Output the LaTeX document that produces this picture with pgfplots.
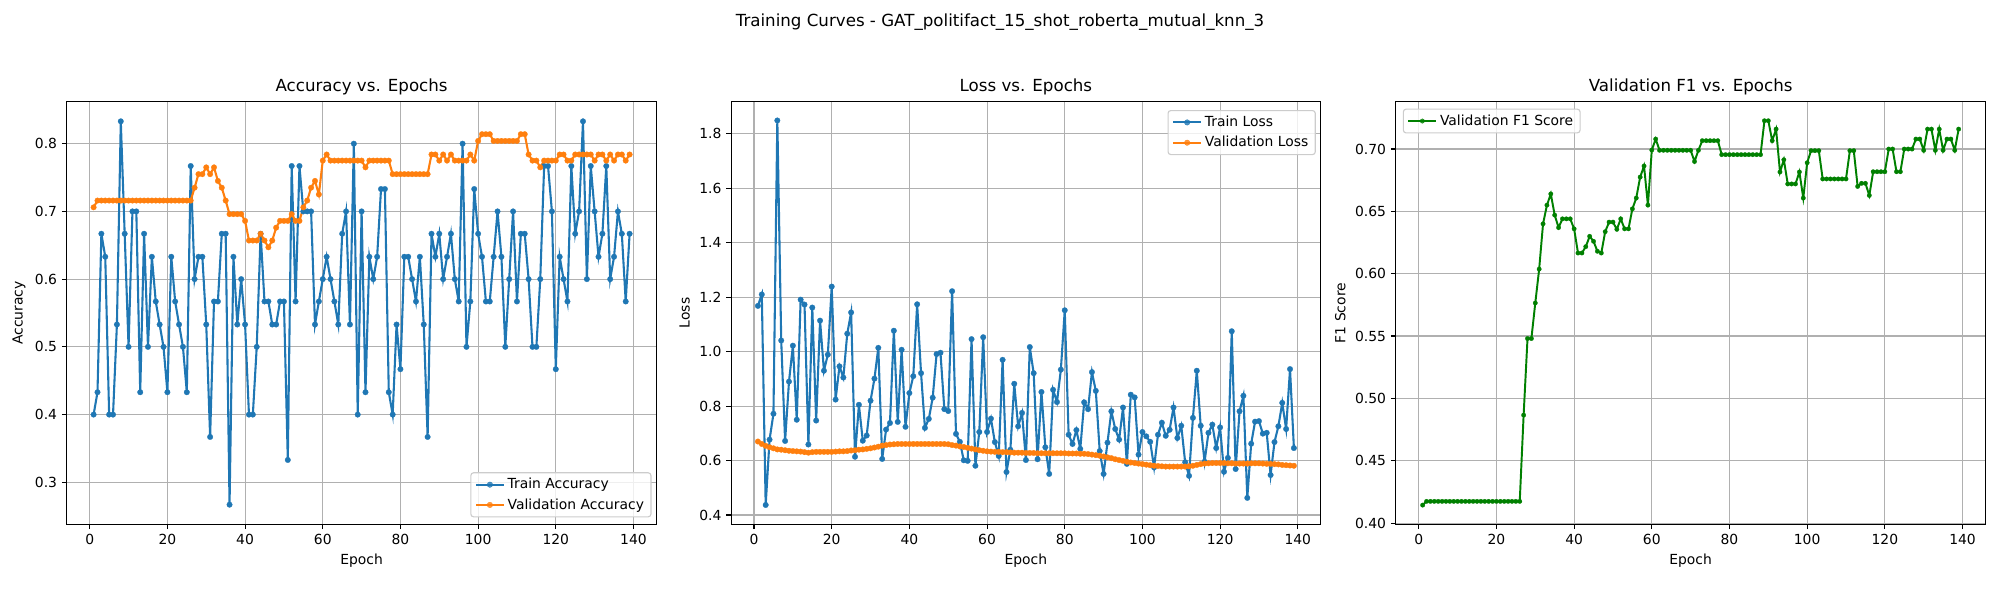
\documentclass[border=0pt]{standalone}
\usepackage{fontspec}
\setmainfont{DejaVu Sans}
\usepackage{pgfplots}
\usepackage{pgfplotstable}
\pgfplotsset{compat=1.18}
\definecolor{tabblue}{HTML}{1F77B4}
\definecolor{taborange}{HTML}{FF7F0E}
\definecolor{mplgreen}{HTML}{008000}
\definecolor{gridgray}{HTML}{B0B0B0}
\definecolor{legendgray}{HTML}{CCCCCC}

\pgfplotstableread{
ep tacc vacc tloss vloss vf1
1 0.400 0.706 1.168 0.670 0.4144
2 0.433 0.716 1.210 0.661 0.4174
3 0.667 0.716 0.437 0.654 0.4174
4 0.633 0.716 0.677 0.649 0.4174
5 0.400 0.716 0.772 0.645 0.4174
6 0.400 0.716 1.849 0.641 0.4174
7 0.533 0.716 1.041 0.640 0.4174
8 0.833 0.716 0.672 0.638 0.4174
9 0.667 0.716 0.890 0.636 0.4174
10 0.500 0.716 1.022 0.635 0.4174
11 0.700 0.716 0.750 0.634 0.4174
12 0.700 0.716 1.191 0.633 0.4174
13 0.433 0.716 1.173 0.631 0.4174
14 0.667 0.716 0.659 0.629 0.4174
15 0.500 0.716 1.162 0.631 0.4174
16 0.633 0.716 0.747 0.632 0.4174
17 0.567 0.716 1.114 0.632 0.4174
18 0.533 0.716 0.930 0.632 0.4174
19 0.500 0.716 0.989 0.632 0.4174
20 0.433 0.716 1.239 0.632 0.4174
21 0.633 0.716 0.824 0.633 0.4174
22 0.567 0.716 0.946 0.634 0.4174
23 0.533 0.716 0.905 0.634 0.4174
24 0.500 0.716 1.066 0.635 0.4174
25 0.433 0.716 1.144 0.637 0.4174
26 0.767 0.716 0.614 0.638 0.4174
27 0.600 0.735 0.805 0.640 0.4866
28 0.633 0.755 0.673 0.641 0.5480
29 0.633 0.755 0.692 0.643 0.5480
30 0.533 0.765 0.820 0.645 0.5765
31 0.367 0.755 0.901 0.648 0.6037
32 0.567 0.765 1.014 0.651 0.6400
33 0.567 0.745 0.606 0.655 0.6550
34 0.667 0.735 0.714 0.657 0.6640
35 0.667 0.716 0.738 0.659 0.6470
36 0.267 0.696 1.077 0.660 0.6370
37 0.633 0.696 0.742 0.661 0.6440
38 0.533 0.696 1.007 0.661 0.6440
39 0.600 0.696 0.724 0.661 0.6440
40 0.533 0.686 0.848 0.661 0.6360
41 0.400 0.657 0.910 0.661 0.6166
42 0.400 0.657 1.174 0.661 0.6166
43 0.500 0.657 0.921 0.661 0.6217
44 0.667 0.667 0.720 0.661 0.6300
45 0.567 0.657 0.753 0.661 0.6260
46 0.567 0.647 0.831 0.661 0.6180
47 0.533 0.657 0.991 0.661 0.6166
48 0.533 0.676 0.996 0.661 0.6337
49 0.567 0.686 0.789 0.661 0.6414
50 0.567 0.686 0.782 0.660 0.6414
51 0.333 0.686 1.222 0.657 0.6356
52 0.767 0.696 0.698 0.655 0.6440
53 0.567 0.686 0.669 0.652 0.6360
54 0.767 0.686 0.601 0.650 0.6360
55 0.700 0.706 0.599 0.647 0.6520
56 0.700 0.716 1.046 0.644 0.6607
57 0.700 0.735 0.581 0.641 0.6775
58 0.533 0.745 0.705 0.638 0.6864
59 0.567 0.725 1.053 0.636 0.6550
60 0.600 0.775 0.705 0.634 0.6992
61 0.633 0.784 0.754 0.633 0.7080
62 0.600 0.775 0.668 0.632 0.6990
63 0.567 0.775 0.617 0.632 0.6990
64 0.533 0.775 0.970 0.631 0.6990
65 0.667 0.775 0.558 0.631 0.6990
66 0.700 0.775 0.640 0.630 0.6990
67 0.533 0.775 0.882 0.629 0.6990
68 0.800 0.775 0.726 0.629 0.6990
69 0.400 0.775 0.775 0.629 0.6990
70 0.700 0.775 0.602 0.628 0.6990
71 0.433 0.765 1.017 0.628 0.6900
72 0.633 0.775 0.921 0.628 0.6990
73 0.600 0.775 0.605 0.627 0.7067
74 0.633 0.775 0.852 0.627 0.7067
75 0.733 0.775 0.649 0.627 0.7067
76 0.733 0.775 0.551 0.627 0.7067
77 0.433 0.775 0.860 0.627 0.7067
78 0.400 0.755 0.815 0.627 0.6955
79 0.533 0.755 0.934 0.627 0.6955
80 0.467 0.755 1.152 0.627 0.6955
81 0.633 0.755 0.695 0.626 0.6955
82 0.633 0.755 0.661 0.626 0.6955
83 0.600 0.755 0.712 0.626 0.6955
84 0.567 0.755 0.643 0.625 0.6955
85 0.633 0.755 0.814 0.625 0.6955
86 0.533 0.755 0.789 0.624 0.6955
87 0.367 0.755 0.925 0.622 0.6955
88 0.667 0.784 0.856 0.620 0.6955
89 0.633 0.784 0.635 0.618 0.7227
90 0.667 0.775 0.551 0.615 0.7227
91 0.600 0.784 0.666 0.612 0.7067
92 0.633 0.775 0.781 0.609 0.7160
93 0.667 0.784 0.716 0.605 0.6816
94 0.600 0.775 0.677 0.602 0.6914
95 0.567 0.775 0.795 0.599 0.6720
96 0.800 0.775 0.588 0.596 0.6720
97 0.500 0.775 0.842 0.593 0.6720
98 0.567 0.784 0.832 0.591 0.6816
99 0.733 0.775 0.622 0.589 0.6607
100 0.667 0.804 0.705 0.587 0.6890
101 0.633 0.814 0.689 0.585 0.6987
102 0.567 0.814 0.669 0.583 0.6987
103 0.567 0.814 0.575 0.581 0.6987
104 0.633 0.804 0.695 0.580 0.6760
105 0.700 0.804 0.739 0.579 0.6760
106 0.633 0.804 0.691 0.578 0.6760
107 0.500 0.804 0.713 0.578 0.6760
108 0.600 0.804 0.795 0.578 0.6760
109 0.700 0.804 0.683 0.578 0.6760
110 0.567 0.804 0.728 0.578 0.6760
111 0.667 0.814 0.594 0.578 0.6987
112 0.667 0.814 0.544 0.579 0.6987
113 0.600 0.784 0.757 0.581 0.6700
114 0.500 0.775 0.930 0.584 0.6725
115 0.500 0.775 0.728 0.587 0.6725
116 0.600 0.765 0.596 0.589 0.6628
117 0.767 0.775 0.702 0.590 0.6818
118 0.767 0.775 0.732 0.591 0.6818
119 0.700 0.775 0.646 0.591 0.6818
120 0.467 0.775 0.722 0.591 0.6818
121 0.633 0.784 0.559 0.591 0.7000
122 0.600 0.784 0.610 0.590 0.7000
123 0.567 0.775 1.075 0.590 0.6818
124 0.767 0.775 0.569 0.589 0.6818
125 0.667 0.784 0.781 0.589 0.7000
126 0.700 0.784 0.838 0.589 0.7000
127 0.833 0.784 0.463 0.589 0.7000
128 0.600 0.784 0.662 0.590 0.7080
129 0.767 0.784 0.743 0.590 0.7080
130 0.700 0.775 0.745 0.590 0.6990
131 0.633 0.784 0.699 0.589 0.7160
132 0.667 0.784 0.702 0.588 0.7160
133 0.767 0.775 0.547 0.588 0.6990
134 0.600 0.784 0.668 0.587 0.7160
135 0.633 0.775 0.726 0.586 0.6990
136 0.700 0.784 0.812 0.584 0.7080
137 0.667 0.784 0.716 0.583 0.7080
138 0.567 0.775 0.936 0.582 0.6990
139 0.667 0.784 0.646 0.581 0.7160
}\data

\pgfplotsset{
  panel/.style={
    scale only axis, width=424.5pt, height=304.3pt, anchor=south west,
    xmin=-5.9, xmax=145.9, xtick={0,20,...,140},
    grid=major, major grid style={color=gridgray, line width=0.8pt},
    axis line style={line width=0.8pt, black},
    every tick/.style={black, line width=0.8pt},
    tick align=outside, major tick length=3.5pt, tick pos=left,
    tick label style={font=\fontsize{10}{12}\selectfont},
    label style={font=\fontsize{10}{12}\selectfont},
    xlabel={Epoch},
    title style={font=\fontsize{12}{14}\selectfont, at={(0.5,1)}, anchor=base, yshift=1pt},
    /pgf/number format/assume math mode=true,
    yticklabel style={/pgf/number format/fixed, /pgf/number format/fixed zerofill},
    legend cell align=left,
    legend style={font=\fontsize{10}{12}\selectfont, draw=legendgray, line width=0.8pt,
      rounded corners=2pt, fill=white, fill opacity=0.8, text opacity=1, draw opacity=1,
      inner xsep=3pt, inner ysep=2pt, row sep=1.5pt},
    legend image code/.code={\draw[mark repeat=2, mark phase=2, #1] plot coordinates {(0pt,0pt) (10pt,0pt) (20pt,0pt)};},
  },
  series/.style={line width=1.5pt, color=#1, mark=*, mark size=2pt, mark options={line width=0.2pt, solid}},
}

\begin{document}
\begin{tikzpicture}[x=1pt,y=1pt]
\useasboundingbox (0,0) rectangle (1440,432);
\node[anchor=north, font=\fontsize{12}{14}\selectfont, inner sep=0pt] at (720,422.5)
  {Training Curves - GAT\_politifact\_15\_shot\_roberta\_mutual\_knn\_3};

\begin{axis}[panel, at={(48.1pt,54.5pt)},
  ymin=0.238, ymax=0.862, ytick={0.3,0.4,...,0.81},
  yticklabel style={/pgf/number format/precision=1},
  ylabel={Accuracy}, title={Accuracy vs. Epochs},
  legend style={at={(1,0)}, anchor=south east, xshift=-3.5pt, yshift=5pt}]
\addplot[series=tabblue] table[x=ep, y=tacc] {\data};
\addlegendentry{Train Accuracy}
\addplot[series=taborange] table[x=ep, y=vacc] {\data};
\addlegendentry{Validation Accuracy}
\end{axis}

\begin{axis}[panel, at={(526.4pt,54.5pt)},
  ymin=0.366, ymax=1.918, ytick={0.4,0.6,...,1.81},
  yticklabel style={/pgf/number format/precision=1},
  ylabel={Loss}, title={Loss vs. Epochs},
  legend style={at={(1,1)}, anchor=north east, xshift=-3.5pt, yshift=-6pt}]
\addplot[series=tabblue] table[x=ep, y=tloss] {\data};
\addlegendentry{Train Loss}
\addplot[series=taborange] table[x=ep, y=vloss] {\data};
\addlegendentry{Validation Loss}
\end{axis}

\begin{axis}[panel, at={(1005.0pt,54.5pt)},
  ymin=0.399, ymax=0.738, ytick={0.40,0.45,...,0.71},
  yticklabel style={/pgf/number format/precision=2},
  ylabel={F1 Score}, title={Validation F1 vs. Epochs},
  legend style={at={(0,1)}, anchor=north west, xshift=5pt, yshift=-5pt}]
\addplot[line width=1.4pt, color=mplgreen, mark=*, mark size=1.6pt, mark options={line width=0.2pt, solid}] table[x=ep, y=vf1] {\data};
\addlegendentry{Validation F1 Score}
\end{axis}
\end{tikzpicture}
\end{document}
